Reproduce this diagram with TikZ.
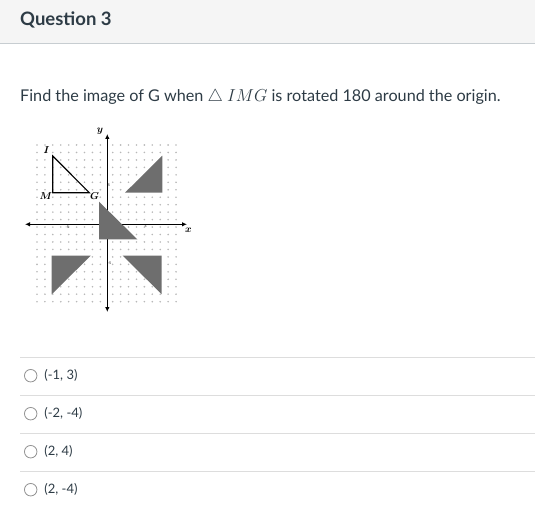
\documentclass[tikz,border=0pt]{standalone}
\usepackage{fontspec}
\setmainfont{Lato}
\usetikzlibrary{positioning, arrows.meta}
\definecolor{ink}{HTML}{2D3B45}
\definecolor{band}{HTML}{F5F5F5}
\definecolor{rulec}{HTML}{C7CDD1}
\definecolor{sepc}{HTML}{DDDDDD}
\definecolor{shade}{HTML}{6E6E6E}
\definecolor{dotc}{HTML}{B8B8B8}

\begin{document}
\begin{tikzpicture}[x=1pt, y=-1pt, node distance = 38pt, on grid,
    radio/.style = {circle, draw=gray!85, line width=0.8pt, minimum size=12.5pt, inner sep=0pt},
    answer/.style = {inner sep=0pt, text=ink, font=\fontsize{13}{15}\selectfont},
    ptlabel/.style = {inner sep=0pt, font=\fontsize{10}{11}\selectfont\boldmath},
    ticklabel/.style = {inner sep=0pt, font=\fontsize{3.5}{4}\selectfont},
    axis/.style = {line width=1.1pt, {Latex[length=5pt,width=4.5pt]}-{Latex[length=5pt,width=4.5pt]}},
    image/.style = {fill=shade, draw=none}]
  \useasboundingbox (0,0) rectangle (535,529);
  % header
  \fill[band] (0,0) rectangle (535,43);
  \draw[rulec, line width=0.8pt] (0,43) -- (535,43);
  \node[anchor=base west, inner sep=0pt, text=ink,
        font=\bfseries\fontsize{18.5}{21}\selectfont] (title) at (20,26) {Question 3};
  \node[anchor=base west, inner sep=0pt, text=ink,
        font=\fontsize{16.2}{19}\selectfont] (question) at (20,102)
    {Find the image of G when $\triangle\ IMG$ is rotated 180 around the origin.};

  % dot grid
  \foreach \i in {0,...,8}
    \foreach \j in {0,...,21} {
      \fill[dotc] ({37+7.92*\i},{145+7.46*\j}) circle (0.9pt);
      \fill[dotc] ({112.7+7.92*\i},{145+7.46*\j}) circle (0.9pt);
    }

  % axes
  \coordinate (xl) at (25,224.3);
  \coordinate (xr) at (187,224.3);
  \coordinate (yb) at (107.3,312);
  \coordinate (yt) at (107.3,134);
  \draw[axis] (xl) -- (xr);
  \draw[axis] (yb) -- (yt);
  \node[ptlabel] (xlbl) at (188.5,230) {$x$};
  \node[ptlabel] (ylbl) at (100,131) {$y$};
  \node[ticklabel] (tl) at (67.3,227.7) {-5};
  \node[ticklabel] (tr) at (145.7,226.5) {5};
  \node[ticklabel] (tt) at (109,185) {5};
  \node[ticklabel] (tb) at (109.5,263.3) {-5};

  % images
  \fill[image] (125,192.7) -- (162.3,192.7) -- (162.3,155.7) -- cycle;
  \fill[image] (99,201.7) -- (99,239.3) -- (137.3,239.3) -- cycle;
  \fill[image] (51.7,255.7) -- (90.7,255.7) -- (51.7,294.3) -- cycle;
  \fill[image] (122.7,255.7) -- (161.7,255.7) -- (161.7,294.3) -- cycle;

  % triangle IMG
  \coordinate (I) at (52.7,156);
  \coordinate (M) at (52.7,192.7);
  \coordinate (G) at (89.3,192.7);
  \draw[line width=1.2pt] (I) -- (M) -- (G) -- cycle;
  \node[ptlabel] (Ilbl) at (46.5,150) {$I$};
  \node[ptlabel] (Mlbl) at (46,196) {$M$};
  \node[ptlabel] (Glbl) at (94.5,196) {$G$};

  % choices
  \foreach \y in {357.3,395.3,433.3,471.3}
    \draw[sepc, line width=0.8pt] (20,\y) -- (535,\y);
  \node[radio] (r1) at (30.7,375.7) {};
  \node[radio] (r2) [below=of r1] {};
  \node[radio] (r3) [below=of r2] {};
  \node[radio] (r4) [below=of r3] {};
  \node[answer] (a1) [right=13.5pt of r1, anchor=west] {(-1, 3)};
  \node[answer] (a2) [right=13.5pt of r2, anchor=west] {(-2, -4)};
  \node[answer] (a3) [right=13.5pt of r3, anchor=west] {(2, 4)};
  \node[answer] (a4) [right=13.5pt of r4, anchor=west] {(2, -4)};
\end{tikzpicture}
\end{document}
